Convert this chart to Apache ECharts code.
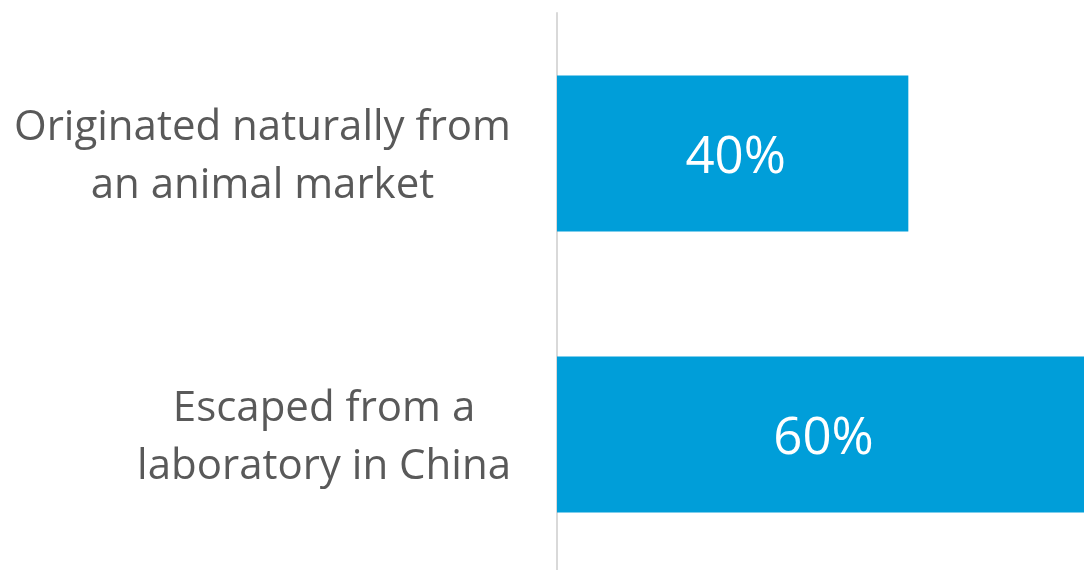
<!DOCTYPE html>
<html><head><meta charset="utf-8">
<script src="https://cdn.jsdelivr.net/npm/echarts@6/dist/echarts.min.js"></script>
<style>html,body{margin:0;padding:0;background:#fff}#c{width:1084px;height:570px}</style>
</head><body><div id="c"></div>
<script>
const categories = ["Originated naturally from\nan animal market", "Escaped from a\nlaboratory in China"];
const values = [40, 60];
const valueLabels = ["40%", "60%"];

const chart = echarts.init(document.getElementById('c'), null, {renderer: 'canvas'});
chart.setOption({
  animation: false,
  grid: {left: 557, top: 13, width: 527, height: 562, containLabel: false, outerBoundsMode: 'none'},
  xAxis: {type: 'value', min: 0, max: 60, show: false},
  yAxis: {
    type: 'category', data: categories, inverse: true,
    axisLine: {show: true, lineStyle: {color: '#d9d9d9', width: 2}},
    axisTick: {show: false}, splitLine: {show: false},
    axisLabel: {
      margin: 46, align: 'right',
      formatter: v => '{c|' + v + '}',
      rich: {c: {align: 'center', fontFamily: 'Open Sans', fontSize: 42, color: '#595959', lineHeight: 58, padding: [8, 0, 0, 0]}}
    }
  },
  series: [{
    type: 'bar', data: values, barWidth: '55.5%',
    itemStyle: {color: '#009ed9'},
    label: {show: true, position: 'inside', offset: [3, 5], formatter: p => valueLabels[p.dataIndex],
      color: '#ffffff', fontFamily: 'Open Sans', fontSize: 51}
  }]
});
</script></body></html>
